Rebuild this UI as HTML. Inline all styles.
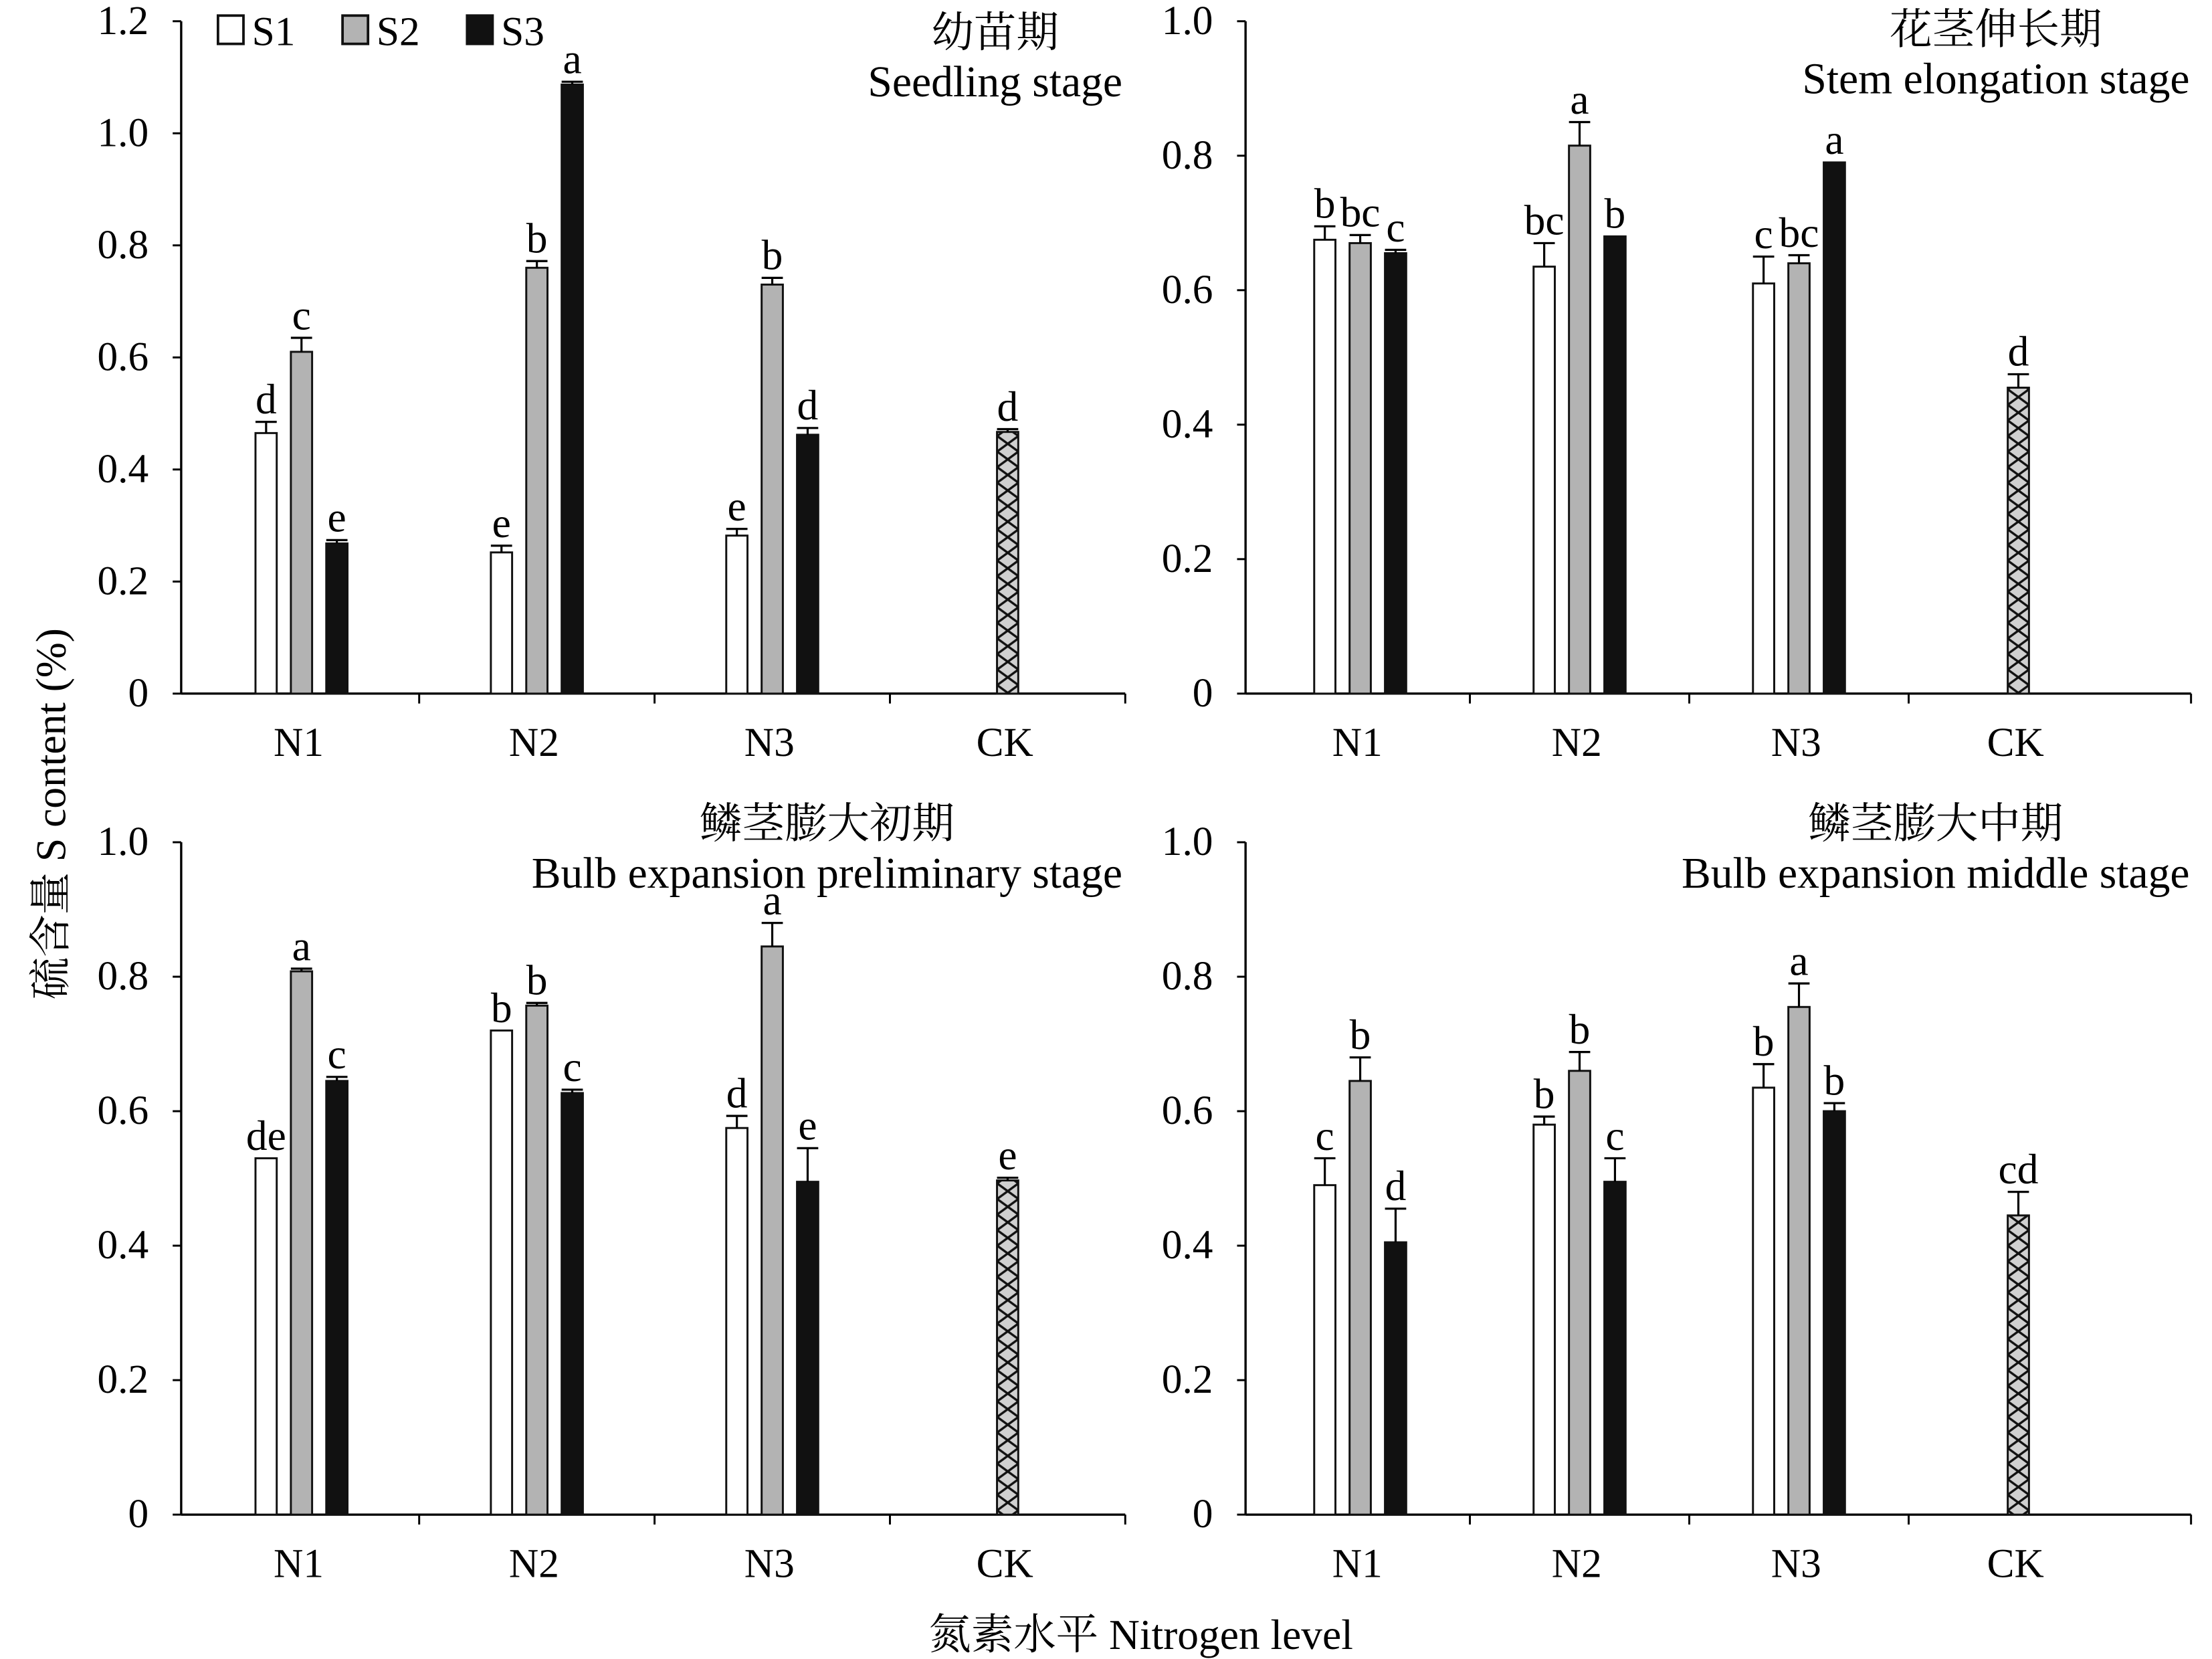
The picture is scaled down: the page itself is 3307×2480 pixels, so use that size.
<!DOCTYPE html>
<html><head><meta charset="utf-8"><style>
html,body{margin:0;padding:0;background:#fff;}
svg{display:block;font-family:"Liberation Serif","Noto Serif CJK SC",serif;}
</style></head><body>
<svg id="chart" width="3307" height="2480" viewBox="0 0 1562.8 1172" xmlns="http://www.w3.org/2000/svg">
<defs>
<pattern id="hatchA" patternUnits="userSpaceOnUse" x="704.5" y="0" width="15" height="22">
<rect width="15" height="22" fill="#d0d0d0"/>
<path d="M0,0 L15,11 L0,22 M15,0 L0,11 L15,22" stroke="#111" stroke-width="1.6" fill="none"/>
</pattern>
<pattern id="hatchB" patternUnits="userSpaceOnUse" x="1418.5" y="0" width="15" height="22">
<rect width="15" height="22" fill="#d0d0d0"/>
<path d="M0,0 L15,11 L0,22 M15,0 L0,11 L15,22" stroke="#111" stroke-width="1.6" fill="none"/>
</pattern>
</defs>
<g id="root"></g>
<text transform="translate(46,575) rotate(-90)" text-anchor="middle" font-size="30">硫含量 S content (%)</text>
<text x="806" y="1165" text-anchor="middle" font-size="30">氮素水平 Nitrogen level</text>
</svg>
<script>
const categories = ["N1","N2","N3","CK"];
const seriesNames = ["S1","S2","S3"];
const p1S1 = [0.465,0.252,0.282], p1S2 = [0.61,0.76,0.73], p1S3 = [0.268,1.087,0.462], p1CK = 0.467;
const p1E1 = [0.02,0.012,0.012], p1E2 = [0.025,0.012,0.012], p1E3 = [0.006,0.005,0.012], p1ECK = 0.005;
const p1L = [["d","c","e"],["e","b","a"],["e","b","d"]], p1LCK = "d";
const p2S1 = [0.675,0.635,0.61], p2S2 = [0.67,0.815,0.64], p2S3 = [0.655,0.68,0.79], p2CK = 0.455;
const p2E1 = [0.02,0.035,0.04], p2E2 = [0.012,0.035,0.012], p2E3 = [0.005,0,0], p2ECK = 0.02;
const p2L = [["b","bc","c"],["bc","a","b"],["c","bc","a"]], p2LCK = "d";
const p3S1 = [0.53,0.72,0.575], p3S2 = [0.808,0.757,0.845], p3S3 = [0.645,0.627,0.495], p3CK = 0.497;
const p3E1 = [0,0,0.018], p3E2 = [0.004,0.004,0.035], p3E3 = [0.006,0.005,0.05], p3ECK = 0.004;
const p3L = [["de","a","c"],["b","b","c"],["d","a","e"]], p3LCK = "e";
const p4S1 = [0.49,0.58,0.635], p4S2 = [0.645,0.66,0.755], p4S3 = [0.405,0.495,0.6], p4CK = 0.445;
const p4E1 = [0.04,0.012,0.035], p4E2 = [0.035,0.028,0.035], p4E3 = [0.05,0.035,0.012], p4ECK = 0.035;
const p4L = [["c","b","d"],["b","b","c"],["b","a","b"]], p4LCK = "cd";
const ticks12 = ["0","0.2","0.4","0.6","0.8","1.0","1.2"];
const ticks10 = ["0","0.2","0.4","0.6","0.8","1.0"];

const NS="http://www.w3.org/2000/svg";
const root=document.getElementById('root');
function mk(tag,attrs,parent){const e=document.createElementNS(NS,tag);for(const k in attrs)e.setAttribute(k,attrs[k]);(parent||root).appendChild(e);return e;}
const fills=["#fff","#b3b3b3","#111"];

function panel(cfg){
  const g=mk('g',{});
  
  
  const yMax=parseFloat(cfg.ticks[cfg.ticks.length-1]);
  const y=v=>cfg.y0-(v/yMax)*(cfg.y0-cfg.yTop);
  const cx=i=>cfg.c0+i*cfg.cw;
  const ya=mk('line',{x1:cfg.ax,y1:cfg.yTop,x2:cfg.ax,y2:cfg.y0,stroke:'#000','stroke-width':1.6},g);
  
  
  const xa=mk('line',{x1:cfg.ax,y1:cfg.y0,x2:cfg.axEnd,y2:cfg.y0,stroke:'#000','stroke-width':1.6},g);
  
  
  cfg.ticks.forEach((t,i)=>{
    const v=parseFloat(t);
    mk('line',{x1:cfg.ax-6,y1:y(v),x2:cfg.ax,y2:y(v),stroke:'#000','stroke-width':1.4},g);
    const tx=mk('text',{x:cfg.ax-23,y:y(v)+9,'text-anchor':'end','font-size':29},g);
    tx.textContent=t;
    
    
  });
  for(let i=0;i<4;i++){
    if(i>0) mk('line',{x1:cx(i)-cfg.cw/2,y1:cfg.y0,x2:cx(i)-cfg.cw/2,y2:cfg.y0+7,stroke:'#000','stroke-width':1.4},g);
    const tx=mk('text',{x:cx(i)-2,y:cfg.y0+44,'text-anchor':'middle','font-size':29},g);
    tx.textContent=categories[i];
    
    
  }
  mk('line',{x1:cfg.axEnd,y1:cfg.y0,x2:cfg.axEnd,y2:cfg.y0+7,stroke:'#000','stroke-width':1.4},g);
  const bw=15, pitch=25;
  function bar(xc,v,e,lab,fill,nm){
    const r=mk('rect',{x:xc-bw/2,y:y(v),width:bw,height:cfg.y0-y(v),fill:fill,stroke:'#111','stroke-width':1.4},g);
    
    
    const top=y(v+e);
    if(e>0){
      mk('line',{x1:xc,y1:y(v),x2:xc,y2:top,stroke:'#000','stroke-width':1.5},g);
      mk('line',{x1:xc-bw/2,y1:top,x2:xc+bw/2,y2:top,stroke:'#000','stroke-width':1.5},g);
    }
    const t=mk('text',{x:xc,y:top-6,'text-anchor':'middle','font-size':30},g);
    t.textContent=lab;
    
    
  }
  for(let i=0;i<3;i++){
    for(let s=0;s<3;s++){
      bar(cx(i)+(s-1)*pitch,cfg.vals[s][i],cfg.errs[s][i],cfg.labs[i][s],fills[s],'bar-'+categories[i].toLowerCase()+'-'+seriesNames[s].toLowerCase());
    }
  }
  bar(cx(3),cfg.ck,cfg.eck,cfg.lck,cfg.hatch,'bar-ck');
  const t2=mk('text',{x:cfg.titleX,y:cfg.yTitle+35,'text-anchor':'end','font-size':31},g);
  t2.textContent=cfg.en;
  
  
  let w=180;
  try{w=t2.getComputedTextLength();}catch(e){}
  const t1=mk('text',{x:cfg.titleX-w/2,y:cfg.yTitle,'text-anchor':'middle','font-size':30},g);
  t1.textContent=cfg.cn;
  
  
}
panel({name:'panel-seedling',ax:128,axEnd:795,y0:490,yTop:15,ticks:ticks12,c0:213,cw:166.3,vals:[p1S1,p1S2,p1S3],errs:[p1E1,p1E2,p1E3],labs:p1L,ck:p1CK,eck:p1ECK,lck:p1LCK,cn:'幼苗期',en:'Seedling stage',titleX:793,yTitle:33,hatch:'url(#hatchA)'});
panel({name:'panel-stem-elongation',ax:880,axEnd:1548,y0:490,yTop:15,ticks:ticks10,c0:961,cw:155,vals:[p2S1,p2S2,p2S3],errs:[p2E1,p2E2,p2E3],labs:p2L,ck:p2CK,eck:p2ECK,lck:p2LCK,cn:'花茎伸长期',en:'Stem elongation stage',titleX:1547,yTitle:31,hatch:'url(#hatchB)'});
panel({name:'panel-bulb-preliminary',ax:128,axEnd:795,y0:1070,yTop:595,ticks:ticks10,c0:213,cw:166.3,vals:[p3S1,p3S2,p3S3],errs:[p3E1,p3E2,p3E3],labs:p3L,ck:p3CK,eck:p3ECK,lck:p3LCK,cn:'鳞茎膨大初期',en:'Bulb expansion preliminary stage',titleX:793,yTitle:592,hatch:'url(#hatchA)'});
panel({name:'panel-bulb-middle',ax:880,axEnd:1548,y0:1070,yTop:595,ticks:ticks10,c0:961,cw:155,vals:[p4S1,p4S2,p4S3],errs:[p4E1,p4E2,p4E3],labs:p4L,ck:p4CK,eck:p4ECK,lck:p4LCK,cn:'鳞茎膨大中期',en:'Bulb expansion middle stage',titleX:1547,yTitle:592,hatch:'url(#hatchB)'});
const lg=mk('g',{});


const legX=[154,242,330];
seriesNames.forEach((n,i)=>{
  const r=mk('rect',{x:legX[i],y:11,width:18,height:20,fill:fills[i],stroke:'#111','stroke-width':1.8},lg);
  
  
  const t=mk('text',{x:legX[i]+24,y:32,'font-size':29},lg);
  t.textContent=n;
  
  
});
</script>
</body></html>
